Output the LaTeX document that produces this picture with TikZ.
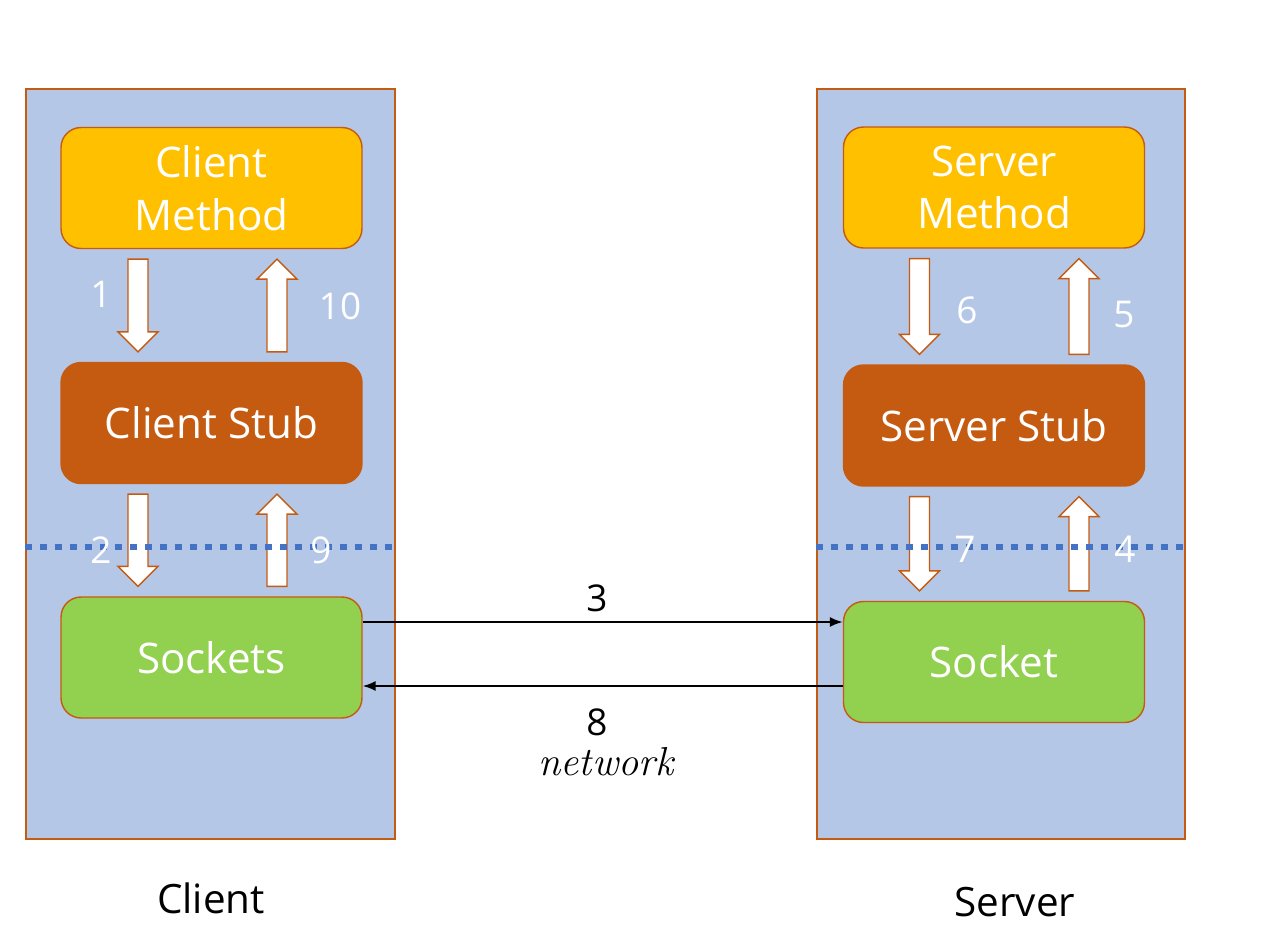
\documentclass[tikz,border=0pt]{standalone}
\usepackage{fontspec}
\setsansfont{Open Sans}
\usetikzlibrary{arrows.meta,positioning,calc}
\definecolor{panelblue}{HTML}{B4C7E7}
\definecolor{edgebrown}{HTML}{C55A11}
\definecolor{methodyellow}{HTML}{FFC000}
\definecolor{stuborange}{HTML}{C55A11}
\definecolor{socketgreen}{HTML}{92D050}
\definecolor{dotblue}{HTML}{4472C4}
\tikzset{
  panel/.style={rectangle,draw=edgebrown,fill=panelblue,line width=0.8pt,minimum width=7.38cm,minimum height=15cm,inner sep=0pt},
  layer/.style={rectangle,rounded corners=0.4cm,draw=edgebrown,line width=0.8pt,minimum width=6.02cm,minimum height=2.42cm,align=center,text=white,font=\sffamily\fontsize{24}{30}\selectfont},
  method/.style={layer,fill=methodyellow},
  stub/.style={layer,fill=stuborange},
  sock/.style={layer,fill=socketgreen},
  blockarr/.style={draw=edgebrown,fill=white,line width=0.8pt,line join=miter},
  steplbl/.style={text=white,font=\sffamily\fontsize{21}{21}\selectfont},
  netarrow/.style={-{Latex[length=0.26cm,width=0.2cm]},line width=1.1pt,draw=black},
  netlbl/.style={font=\sffamily\fontsize{21}{21}\selectfont},
  sidelbl/.style={font=\sffamily\fontsize{23}{23}\selectfont},
  boundary/.style={draw=dotblue,line width=3.4pt,dash pattern=on 0.14cm off 0.16cm}
}
% hollow block arrows between layers
\newcommand{\blkdown}[3]{%
  \draw[blockarr] let \p1=($(#1.south)+(#3,10)$), \p2=($(#2.north)+(#3,-10)$) in
    (\x1-0.2cm,\y1) -- (\x1+0.2cm,\y1) -- (\x1+0.2cm,\y2+0.4cm) -- (\x1+0.4cm,\y2+0.4cm)
    -- (\x1,\y2) -- (\x1-0.4cm,\y2+0.4cm) -- (\x1-0.2cm,\y2+0.4cm) -- cycle;}
\newcommand{\blkup}[3]{%
  \draw[blockarr] let \p1=($(#1.north)+(#3,-10)$), \p2=($(#2.south)+(#3,10)$) in
    (\x1-0.2cm,\y1) -- (\x1+0.2cm,\y1) -- (\x1+0.2cm,\y2-0.4cm) -- (\x1+0.4cm,\y2-0.4cm)
    -- (\x1,\y2) -- (\x1-0.4cm,\y2-0.4cm) -- (\x1-0.2cm,\y2-0.4cm) -- cycle;}

\begin{document}
\begin{tikzpicture}[x=0.02cm,y=-0.02cm]
  \path[fill=white,use as bounding box] (0,0) rectangle (1261,951);

  % client and server sides
  \node[panel] (cpanel) at (210.5,464) {};
  \node[panel,minimum width=7.36cm] (spanel) at (1001,464) {};

  \node[method] (cmethod) at (211.5,188) {Client\\Method};
  \node[stub] (cstub) at (211.5,423) {Client Stub};
  \node[sock] (csock) at (211.5,657.5) {Sockets};

  \node[method] (smethod) at (994,187.5) {Server\\Method};
  \node[stub] (sstub) at (994,425.5) {Server Stub};
  \node[sock] (ssock) at (994,662) {Socket};

  \blkdown{cmethod}{cstub}{-73.5}
  \blkup{cstub}{cmethod}{65.5}
  \blkdown{cstub}{csock}{-73.5}
  \blkup{csock}{cstub}{65.5}

  \blkdown{smethod}{sstub}{-74.5}
  \blkup{sstub}{smethod}{85}
  \blkdown{sstub}{ssock}{-74.5}
  \blkup{ssock}{sstub}{85}

  \draw[boundary] (cpanel.west |- 0,547) -- (cpanel.east |- 0,547);
  \draw[boundary] (spanel.west |- 0,547) -- (spanel.east |- 0,547);

  \node[steplbl] (n1) at (101,294) {1};
  \node[steplbl] (n10) at (340,306) {10};
  \node[steplbl] (n2) at (101,550) {2};
  \node[steplbl] (n9) at (321,550) {9};
  \node[steplbl] (n6) at (967,310) {6};
  \node[steplbl] (n5) at (1124,315) {5};
  \node[steplbl] (n7) at (965,549) {7};
  \node[steplbl] (n4) at (1125,549) {4};

  % network
  \draw[netarrow] ([yshift=0.71cm]csock.east) -- ([yshift=0.71cm]csock.east -| ssock.west);
  \draw[netarrow] ([yshift=-0.57cm]csock.east -| ssock.west) -- ([yshift=-0.57cm]csock.east);
  \node[netlbl] (req) at (597,598) {3};
  \node[netlbl] (resp) at (597,722) {8};
  \node[font=\itshape\fontsize{23}{23}\selectfont] (net) at (606,762) {network};

  \node[sidelbl] (clbl) at (211,898) {Client};
  \node[sidelbl] (slbl) at (1015,902) {Server};
\end{tikzpicture}
\end{document}
